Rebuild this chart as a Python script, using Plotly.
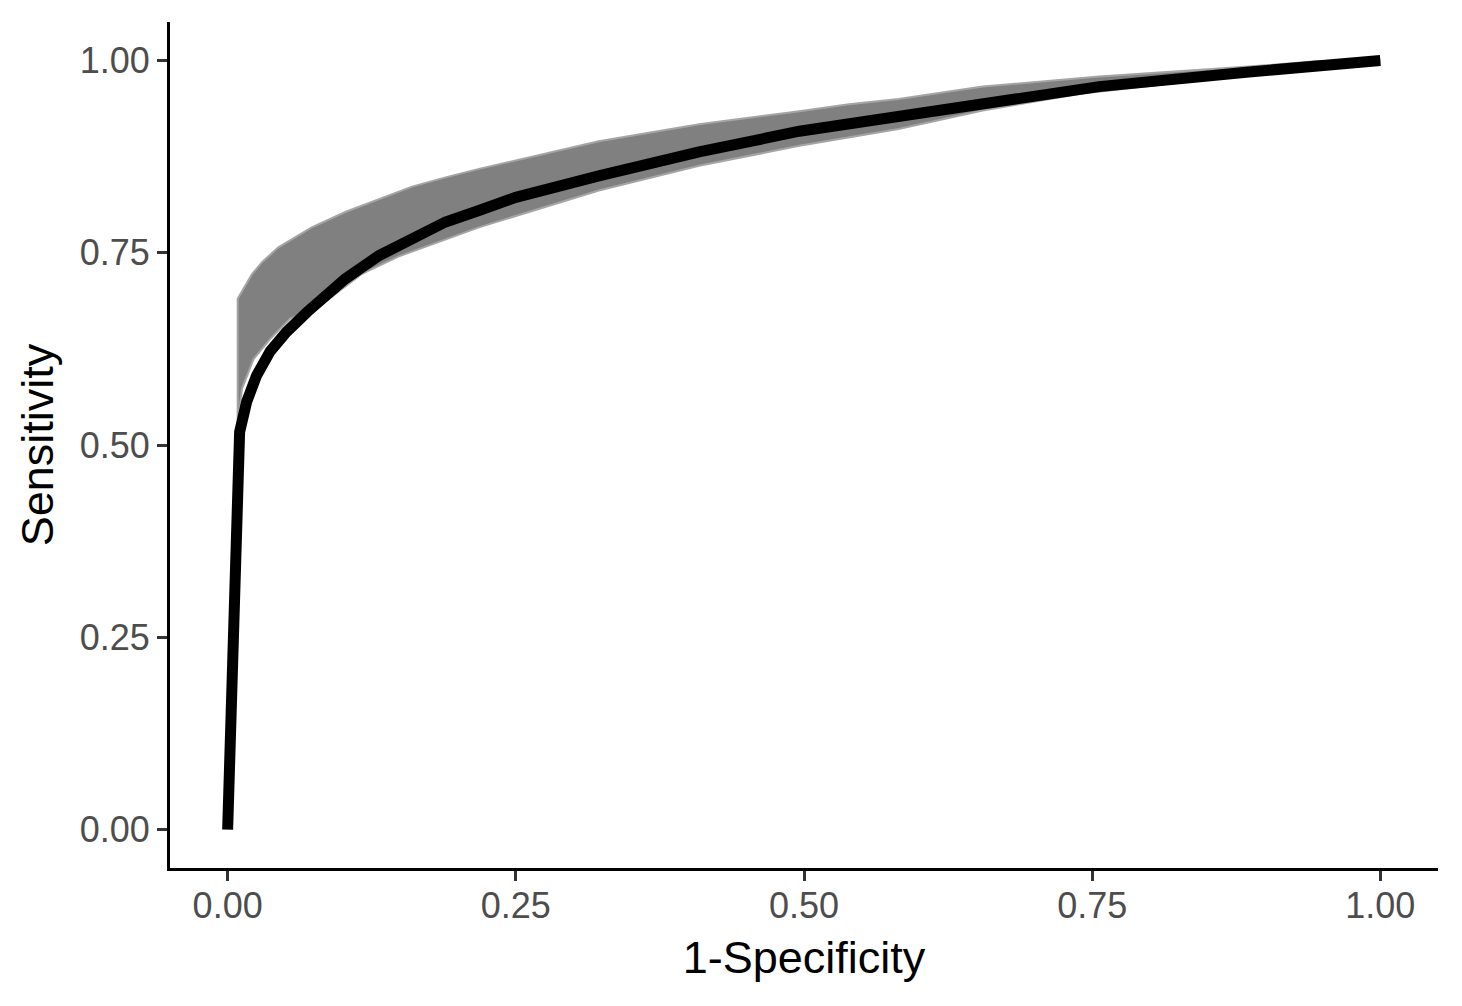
import plotly.graph_objects as go

# main ROC curve (black)
fpr = [0, 0.0104, 0.0165, 0.025, 0.037, 0.051, 0.069, 0.086, 0.102, 0.131, 0.160, 0.189,
       0.218, 0.250, 0.322, 0.409, 0.496, 0.582, 0.655, 0.756, 0.886, 0.944, 1.0]
tpr = [0, 0.517, 0.556, 0.590, 0.622, 0.647, 0.673, 0.694, 0.716, 0.746, 0.770, 0.790,
       0.805, 0.822, 0.850, 0.881, 0.908, 0.928, 0.944, 0.966, 0.985, 0.992, 1.0]

# bootstrap band, upper edge
up_x = [0.0087, 0.0087, 0.021, 0.030, 0.044, 0.073, 0.102, 0.131, 0.160, 0.189, 0.218,
        0.322, 0.409, 0.496, 0.539, 0.582, 0.655, 0.756, 0.886, 0.944, 1.0]
up_y = [0.521, 0.690, 0.722, 0.738, 0.757, 0.783, 0.803, 0.820, 0.836, 0.848, 0.859,
        0.895, 0.917, 0.934, 0.943, 0.950, 0.966, 0.979, 0.992, 0.999, 1.0]

# bootstrap band, lower edge
lo_x = [0.0087, 0.0124, 0.0226, 0.037, 0.054, 0.079, 0.117, 0.148, 0.218, 0.235, 0.322,
        0.409, 0.496, 0.582, 0.655, 0.741, 0.886, 1.0]
lo_y = [0.521, 0.573, 0.612, 0.638, 0.664, 0.680, 0.723, 0.745, 0.783, 0.790, 0.831,
        0.863, 0.889, 0.911, 0.935, 0.957, 0.981, 1.0]

band_x = up_x + lo_x[::-1]
band_y = up_y + lo_y[::-1]

fig = go.Figure()
fig.add_trace(go.Scatter(x=band_x, y=band_y, mode="lines", fill="toself",
                         fillcolor="rgb(128,128,128)",
                         line=dict(color="rgb(165,165,165)", width=2),
                         hoverinfo="skip", showlegend=False))
fig.add_trace(go.Scatter(x=fpr, y=tpr, mode="lines",
                         line=dict(color="black", width=11),
                         hoverinfo="skip", showlegend=False))

font = "Liberation Sans, Arial, sans-serif"
axis = dict(showgrid=False, zeroline=False, showline=True, linecolor="black", linewidth=3,
            ticks="outside", ticklen=10, tickwidth=3, tickcolor="#333333",
            tickvals=[0, 0.25, 0.5, 0.75, 1], ticktext=["0.00", "0.25", "0.50", "0.75", "1.00"],
            tickfont=dict(family=font, size=36, color="#4d4d4d"))

fig.update_layout(
    width=1462, height=1006,
    margin=dict(l=170, r=24, t=22, b=138),
    paper_bgcolor="white", plot_bgcolor="white",
    xaxis=dict(axis, range=[-0.05, 1.05], ticklabelstandoff=-6,
               title=dict(text="1-Specificity", font=dict(family=font, size=45, color="black"),
                          standoff=17)),
    yaxis=dict(axis, range=[-0.05, 1.05],
               title=dict(text="Sensitivity", font=dict(family=font, size=45, color="black"),
                          standoff=12)),
)

fig.write_html("out.html", config={"displayModeBar": False},
               post_script="document.body.style.margin='0';")
